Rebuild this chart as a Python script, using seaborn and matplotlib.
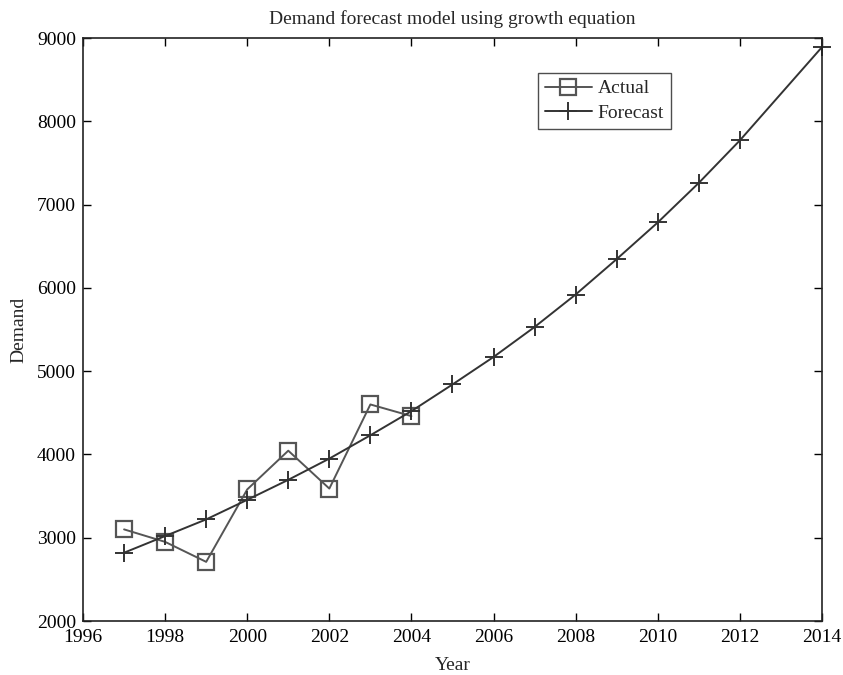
import matplotlib
matplotlib.use('Agg')
import matplotlib.pyplot as plt
import seaborn as sns
import pandas as pd

# values
actual_years = [1997, 1998, 1999, 2000, 2001, 2002, 2003, 2004]
actual_demand = [3100, 2950, 2710, 3580, 4045, 3590, 4600, 4460]

forecast_years = [1997, 1998, 1999, 2000, 2001, 2002, 2003, 2004, 2005,
                  2006, 2007, 2008, 2009, 2010, 2011, 2012, 2014]
forecast_demand = [2820, 3020, 3220, 3455, 3695, 3950, 4230, 4520, 4840,
                   5170, 5530, 5920, 6345, 6785, 7260, 7770, 8890]

x_ticks = list(range(1996, 2015, 2))
y_ticks = list(range(2000, 9001, 1000))

df_actual = pd.DataFrame({"Year": actual_years, "Demand": actual_demand})
df_forecast = pd.DataFrame({"Year": forecast_years, "Demand": forecast_demand})

sns.set_theme(style="white")
plt.rcParams['font.family'] = ['Liberation Serif', 'DejaVu Serif']

fig = plt.figure(figsize=(8.43, 6.75), dpi=100)
ax = fig.add_axes([0.0985, 0.08, 0.8765, 0.8637])

sns.lineplot(data=df_actual, x="Year", y="Demand", ax=ax, color="#555555",
             marker="s", markersize=11, markerfacecolor="none",
             markeredgecolor="#555555", markeredgewidth=1.6, linewidth=1.4,
             label="Actual")
sns.lineplot(data=df_forecast, x="Year", y="Demand", ax=ax, color="#333333",
             marker="+", markersize=13, markeredgecolor="#333333",
             markeredgewidth=1.4, linewidth=1.4, label="Forecast",
             clip_on=False)

ax.set_xlim(1996, 2014)
ax.set_ylim(2000, 9000)
ax.set_xticks(x_ticks)
ax.set_yticks(y_ticks)
ax.tick_params(direction="in", length=6, width=1, labelsize=14,
               top=True, right=True, bottom=True, left=True, colors="black")
ax.tick_params(axis="x", pad=6)
ax.tick_params(axis="y", pad=5)
for s in ax.spines.values():
    s.set_color("#222222")
    s.set_linewidth(1.2)

ax.set_title("Demand forecast model using growth equation", fontsize=14, pad=10)
ax.set_xlabel("Year", fontsize=14, labelpad=8)
ax.set_ylabel("Demand", fontsize=14, labelpad=7)

leg = ax.legend(loc="upper left", bbox_to_anchor=(0.616, 0.94), fontsize=14,
                frameon=True, fancybox=False, handlelength=2.4,
                handletextpad=0.3, borderpad=0.35, labelspacing=0.35,
                borderaxespad=0)
leg.get_frame().set_edgecolor("#222222")
leg.get_frame().set_linewidth(1.0)

fig.savefig("out.png", dpi=100)
